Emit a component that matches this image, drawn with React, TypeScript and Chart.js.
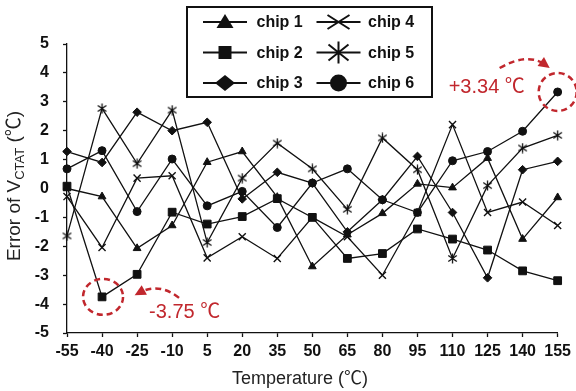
import { useEffect, useRef } from 'react';
import { Chart, registerables } from 'chart.js';

Chart.register(...registerables);

const temperatures = ['-55', '-40', '-25', '-10', '5', '20', '35', '50', '65', '80', '95', '110', '125', '140', '155'];
const seriesNames = ['chip 1', 'chip 2', 'chip 3', 'chip 4', 'chip 5', 'chip 6'];
const chip1 = [0.0, -0.28, -2.07, -1.28, 0.91, 1.28, -0.3, -2.7, -1.6, -0.86, 0.16, 0.03, 1.05, -1.75, -0.31];
const chip2 = [0.08, -3.75, -2.97, -0.82, -1.23, -0.97, -0.35, -1.0, -2.42, -2.25, -1.4, -1.75, -2.13, -2.85, -3.19];
const chip3 = [1.28, 0.9, 2.64, 2.0, 2.29, -0.36, 0.56, 0.19, -1.5, -0.39, 1.11, -0.83, -3.09, 0.65, 0.94];
const chip4 = [-0.28, -2.04, 0.36, 0.44, -2.4, -1.67, -2.42, -1.0, -1.67, -3.0, -0.83, 2.21, -0.83, -0.47, -1.28];
const chip5 = [-1.64, 2.77, 0.86, 2.71, -1.87, 0.36, 1.57, 0.68, -0.72, 1.75, 0.65, -2.42, 0.1, 1.4, 1.84];
const chip6 = [0.68, 1.31, -0.8, 1.02, -0.6, -0.1, -1.35, 0.19, 0.68, -0.39, -0.83, 0.96, 1.28, 1.98, 3.34];
const yTicks = [-5, -4, -3, -2, -1, 0, 1, 2, 3, 4, 5];
const maxLabel = '+3.34 ℃';
const minLabel = '-3.75 ℃';
const xTitle = 'Temperature (℃)';
const yTitleParts = ['Error of V', 'CTAT', ' (℃)'];

const FONT = "'Liberation Sans', Arial, 'Noto Sans CJK SC', sans-serif";
const RED = '#c1272d';
const INK = '#111111';

function makeAsterisk(size: number, lw: number) {
  const c = document.createElement('canvas');
  c.width = size;
  c.height = size;
  const g = c.getContext('2d')!;
  g.strokeStyle = INK;
  g.lineWidth = lw;
  const m = size / 2;
  const r = size / 2 - 0.5;
  g.beginPath();
  g.moveTo(m, m - r);
  g.lineTo(m, m + r);
  const d = r * 0.85;
  g.moveTo(m - d, m - d * 0.7);
  g.lineTo(m + d, m + d * 0.7);
  g.moveTo(m + d, m - d * 0.7);
  g.lineTo(m - d, m + d * 0.7);
  g.stroke();
  return c;
}

function drawLegendSymbol(ctx: CanvasRenderingContext2D, kind: number, x: number, y: number) {
  ctx.save();
  ctx.fillStyle = INK;
  ctx.strokeStyle = INK;
  ctx.lineWidth = 2;
  ctx.beginPath();
  ctx.moveTo(x - 22, y);
  ctx.lineTo(x + 22, y);
  ctx.stroke();
  ctx.beginPath();
  if (kind === 0) {
    ctx.moveTo(x, y - 8);
    ctx.lineTo(x + 8.5, y + 6);
    ctx.lineTo(x - 8.5, y + 6);
    ctx.closePath();
    ctx.fill();
  } else if (kind === 1) {
    ctx.rect(x - 6.5, y - 6.5, 13, 13);
    ctx.fill();
  } else if (kind === 2) {
    ctx.moveTo(x, y - 8);
    ctx.lineTo(x + 10, y);
    ctx.lineTo(x, y + 8);
    ctx.lineTo(x - 10, y);
    ctx.closePath();
    ctx.fill();
  } else if (kind === 3) {
    ctx.lineWidth = 2;
    ctx.moveTo(x - 11, y - 7);
    ctx.lineTo(x + 11, y + 7);
    ctx.moveTo(x + 11, y - 7);
    ctx.lineTo(x - 11, y + 7);
    ctx.stroke();
  } else if (kind === 4) {
    ctx.lineWidth = 2;
    ctx.moveTo(x, y - 11);
    ctx.lineTo(x, y + 11);
    ctx.moveTo(x - 10, y - 8);
    ctx.lineTo(x + 10, y + 8);
    ctx.moveTo(x + 10, y - 8);
    ctx.lineTo(x - 10, y + 8);
    ctx.stroke();
  } else {
    ctx.arc(x, y, 8.5, 0, Math.PI * 2);
    ctx.fill();
  }
  ctx.restore();
}

const legendPlugin = {
  id: 'boxLegend',
  afterDraw(chart: any) {
    const ctx: CanvasRenderingContext2D = chart.ctx;
    ctx.save();
    ctx.strokeStyle = INK;
    ctx.lineWidth = 2;
    ctx.strokeRect(187, 7, 245, 90);
    ctx.font = `bold 16px ${FONT}`;
    ctx.fillStyle = INK;
    ctx.textBaseline = 'middle';
    ctx.textAlign = 'left';
    const rows = [22, 52.5, 83];
    seriesNames.forEach((name, i) => {
      const col = i < 3 ? 0 : 1;
      const row = i % 3;
      const sx = col === 0 ? 225 : 338.5;
      const tx = col === 0 ? 256.5 : 368;
      drawLegendSymbol(ctx, i, sx, rows[row]);
      ctx.fillText(name, tx, rows[row] + 1);
    });
    ctx.restore();
  },
};

function dashedArrow(ctx: CanvasRenderingContext2D, sx: number, sy: number, cx: number, cy: number, ex: number, ey: number) {
  ctx.save();
  ctx.strokeStyle = RED;
  ctx.fillStyle = RED;
  ctx.lineWidth = 2.5;
  ctx.setLineDash([6, 4]);
  ctx.beginPath();
  ctx.moveTo(sx, sy);
  ctx.quadraticCurveTo(cx, cy, ex, ey);
  ctx.stroke();
  ctx.setLineDash([]);
  const ang = Math.atan2(ey - cy, ex - cx);
  const L = 11;
  const W = 5.5;
  const tx = ex + Math.cos(ang) * 5;
  const ty = ey + Math.sin(ang) * 5;
  ctx.beginPath();
  ctx.moveTo(tx, ty);
  ctx.lineTo(tx - Math.cos(ang) * L - Math.sin(ang) * W, ty - Math.sin(ang) * L + Math.cos(ang) * W);
  ctx.lineTo(tx - Math.cos(ang) * L + Math.sin(ang) * W, ty - Math.sin(ang) * L - Math.cos(ang) * W);
  ctx.closePath();
  ctx.fill();
  ctx.restore();
}

function dashedEllipse(ctx: CanvasRenderingContext2D, x: number, y: number, rx: number, ry: number) {
  ctx.save();
  ctx.strokeStyle = RED;
  ctx.lineWidth = 2.5;
  ctx.setLineDash([6, 4]);
  ctx.beginPath();
  ctx.ellipse(x, y, rx, ry, 0, 0, Math.PI * 2);
  ctx.stroke();
  ctx.restore();
}

const annotatePlugin = {
  id: 'annotate',
  afterDraw(chart: any) {
    const ctx: CanvasRenderingContext2D = chart.ctx;
    const xs = chart.scales.x;
    const ys = chart.scales.y;
    const maxI = chip6.indexOf(Math.max(...chip6));
    const minI = chip2.indexOf(Math.min(...chip2));
    const mx = xs.getPixelForValue(maxI);
    const my = ys.getPixelForValue(chip6[maxI]);
    const nx = xs.getPixelForValue(minI);
    const ny = ys.getPixelForValue(chip2[minI]);

    dashedEllipse(ctx, mx, my, 19, 19);
    dashedArrow(ctx, mx - 58, my - 24, mx - 30, my - 40, mx - 12, my - 27);
    dashedEllipse(ctx, nx + 1, ny, 20, 18);
    dashedArrow(ctx, nx + 77, ny + 1, nx + 57, ny - 15, nx + 37, ny - 4);

    ctx.save();
    ctx.fillStyle = RED;
    ctx.font = `20px ${FONT}`;
    ctx.textBaseline = 'middle';
    ctx.textAlign = 'left';
    ctx.fillText(maxLabel, mx - 109, my - 4);
    ctx.fillText(minLabel, nx + 47, ny + 16);
    ctx.restore();

    // axis titles
    ctx.save();
    ctx.fillStyle = '#222';
    ctx.font = `18px ${FONT}`;
    ctx.textAlign = 'center';
    ctx.textBaseline = 'middle';
    ctx.fillText(xTitle, 300, 379);
    ctx.restore();

    ctx.save();
    ctx.fillStyle = '#222';
    ctx.translate(15, 186);
    ctx.rotate(-Math.PI / 2);
    ctx.textBaseline = 'middle';
    ctx.textAlign = 'left';
    const mainFont = `19px ${FONT}`;
    const subFont = `13px ${FONT}`;
    ctx.font = mainFont;
    const w0 = ctx.measureText(yTitleParts[0]).width;
    const w2 = ctx.measureText(yTitleParts[2]).width;
    ctx.font = subFont;
    const w1 = ctx.measureText(yTitleParts[1]).width;
    let x = -(w0 + w1 + w2) / 2;
    ctx.font = mainFont;
    ctx.fillText(yTitleParts[0], x, 0);
    x += w0;
    ctx.font = subFont;
    ctx.fillText(yTitleParts[1], x, 5);
    x += w1;
    ctx.font = mainFont;
    ctx.fillText(yTitleParts[2], x, 0);
    ctx.restore();
  },
};

export default function App() {
  const ref = useRef<HTMLCanvasElement>(null);
  useEffect(() => {
    const canvas = ref.current!;
    const asterisk = makeAsterisk(11, 1.3);
    const base = {
      borderColor: INK,
      borderWidth: 1.3,
      pointBackgroundColor: INK,
      pointBorderColor: INK,
      pointBorderWidth: 1,
      tension: 0,
      fill: false,
    };
    const chart = new Chart(canvas, {
      type: 'line',
      data: {
        labels: temperatures,
        datasets: [
          { ...base, label: seriesNames[0], data: chip1, pointStyle: 'triangle', pointRadius: 4.5 },
          { ...base, label: seriesNames[1], data: chip2, pointStyle: 'rect', pointRadius: 5.5 },
          { ...base, label: seriesNames[2], data: chip3, pointStyle: 'rectRot', pointRadius: 4.3 },
          { ...base, label: seriesNames[3], data: chip4, pointStyle: 'crossRot', pointRadius: 5, pointBorderWidth: 1.4 },
          { ...base, label: seriesNames[4], data: chip5, pointStyle: asterisk as any, pointRadius: 5 },
          { ...base, label: seriesNames[5], data: chip6, pointStyle: 'circle', pointRadius: 4 },
        ] as any,
      },
      options: {
        animation: false,
        responsive: false,
        devicePixelRatio: 1,
        layout: { padding: { top: 44, right: 16, left: 0, bottom: 0 } },
        plugins: {
          legend: { display: false },
          tooltip: { enabled: false },
          title: { display: false },
        },
        scales: {
          x: {
            type: 'category',
            offset: false,
            grid: { display: true, drawOnChartArea: false, drawTicks: true, tickLength: 4, tickWidth: 1.3, tickColor: INK },
            border: { display: true, color: INK, width: 1.3 },
            ticks: { color: INK, font: { family: FONT, size: 16, weight: 'bold' }, padding: 5, maxRotation: 0, autoSkip: false },
            afterFit: (s: any) => {
              s.height = 58;
            },
          },
          y: {
            min: yTicks[0],
            max: yTicks[yTicks.length - 1],
            afterBuildTicks: (s: any) => {
              s.ticks = yTicks.map((v) => ({ value: v }));
            },
            grid: { display: true, drawOnChartArea: false, drawTicks: true, tickLength: 4, tickWidth: 1.3, tickColor: INK },
            border: { display: true, color: INK, width: 1.3 },
            ticks: { color: INK, font: { family: FONT, size: 16, weight: 'bold' }, padding: 14 },
            afterFit: (s: any) => {
              s.width = 67;
            },
          },
        },
      } as any,
      plugins: [legendPlugin, annotatePlugin],
    });
    return () => chart.destroy();
  }, []);
  return (
    <div style={{ position: 'fixed', left: 0, top: 0, width: 576, height: 391, background: '#fff' }}>
      <canvas ref={ref} width={576} height={391} style={{ display: 'block', width: 576, height: 391 }} />
    </div>
  );
}
